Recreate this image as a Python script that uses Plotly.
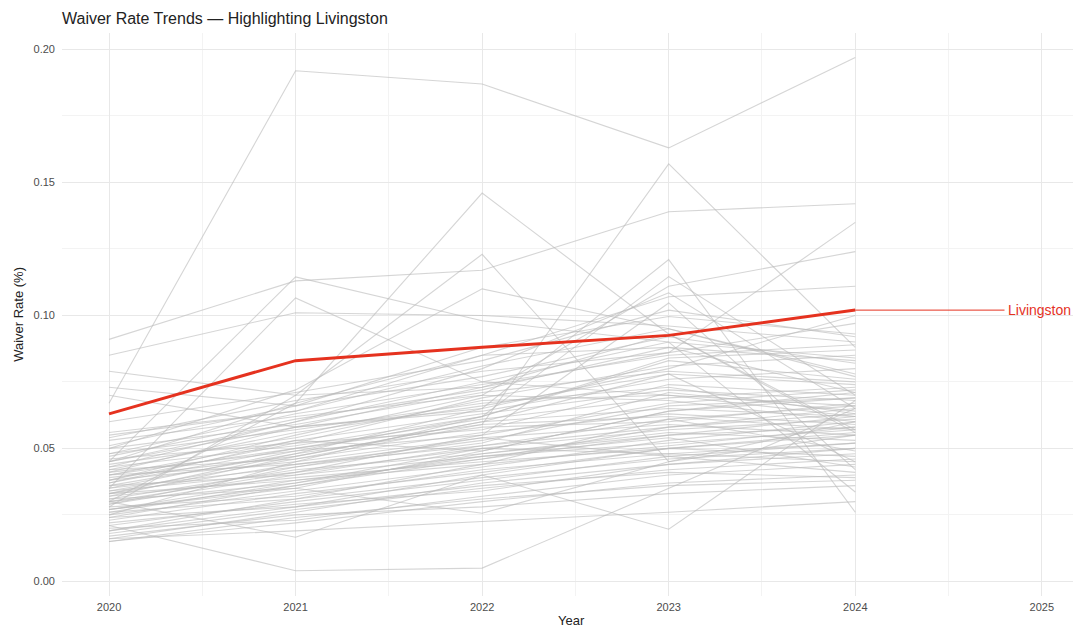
import plotly.graph_objects as go

years = [2020, 2021, 2022, 2023, 2024]
x_ticks = [2020, 2021, 2022, 2023, 2024, 2025]
y_ticks = [0.00, 0.05, 0.10, 0.15, 0.20]

highlight_name = "Livingston"
livingston = [0.063, 0.083, 0.088, 0.0925, 0.102]

# Other counties: one value per county for each year (same county order in every list)
rate_2020 = [0.067, 0.091, 0.085, 0.079, 0.045, 0.035, 0.030, 0.040, 0.028, 0.050,
             0.033, 0.025, 0.038, 0.043, 0.055, 0.030, 0.073, 0.070, 0.021, 0.019,
             0.030, 0.016, 0.027, 0.015, 0.045, 0.015, 0.017, 0.018, 0.020, 0.021,
             0.022, 0.023, 0.024, 0.025, 0.026, 0.027, 0.027, 0.028, 0.029, 0.030,
             0.031, 0.031, 0.032, 0.033, 0.034, 0.034, 0.035, 0.036, 0.036, 0.037,
             0.038, 0.038, 0.039, 0.040, 0.040, 0.041, 0.042, 0.042, 0.043, 0.044,
             0.045, 0.046, 0.047, 0.048, 0.048, 0.050, 0.051, 0.053, 0.054, 0.056,
             0.060, 0.026, 0.019, 0.029, 0.033, 0.037, 0.024, 0.032, 0.016, 0.045,
             0.041, 0.035]
rate_2021 = [0.192, 0.113, 0.101, 0.070, 0.1145, 0.1066, 0.067, 0.050, 0.070, 0.072,
             0.048, 0.045, 0.055, 0.060, 0.064, 0.041, 0.066, 0.058, 0.004, 0.028,
             0.0166, 0.019, 0.035, 0.024, 0.060, 0.022, 0.025, 0.027, 0.023, 0.030,
             0.029, 0.033, 0.028, 0.034, 0.031, 0.036, 0.038, 0.032, 0.040, 0.037,
             0.035, 0.042, 0.039, 0.044, 0.041, 0.046, 0.043, 0.048, 0.040, 0.050,
             0.045, 0.052, 0.047, 0.044, 0.053, 0.049, 0.056, 0.046, 0.051, 0.054,
             0.058, 0.052, 0.061, 0.057, 0.063, 0.059, 0.066, 0.062, 0.068, 0.064,
             0.071, 0.037, 0.031, 0.043, 0.038, 0.053, 0.036, 0.047, 0.026, 0.067,
             0.058, 0.049]
rate_2022 = [0.187, 0.117, 0.100, 0.073, 0.098, 0.075, 0.146, 0.059, 0.123, 0.110,
             0.065, 0.062, 0.070, 0.080, 0.085, 0.055, 0.088, 0.065, 0.005, 0.040,
             0.040, 0.0225, 0.0256, 0.031, 0.075, 0.030, 0.028, 0.035, 0.032, 0.038,
             0.034, 0.041, 0.036, 0.043, 0.039, 0.046, 0.044, 0.042, 0.051, 0.047,
             0.049, 0.048, 0.045, 0.053, 0.050, 0.056, 0.052, 0.058, 0.047, 0.061,
             0.054, 0.057, 0.060, 0.051, 0.063, 0.055, 0.066, 0.059, 0.062, 0.068,
             0.064, 0.069, 0.072, 0.067, 0.074, 0.071, 0.077, 0.070, 0.079, 0.081,
             0.083, 0.050, 0.044, 0.054, 0.046, 0.049, 0.048, 0.060, 0.037, 0.085,
             0.073, 0.062]
rate_2023 = [0.163, 0.139, 0.096, 0.086, 0.090, 0.070, 0.093, 0.157, 0.045, 0.095,
             0.121, 0.1146, 0.111, 0.1085, 0.107, 0.1047, 0.0996, 0.080, 0.035, 0.0196,
             0.050, 0.026, 0.045, 0.036, 0.090, 0.037, 0.033, 0.042, 0.040, 0.047,
             0.044, 0.050, 0.041, 0.053, 0.046, 0.055, 0.061, 0.048, 0.058, 0.052,
             0.064, 0.056, 0.050, 0.066, 0.057, 0.063, 0.071, 0.060, 0.054, 0.069,
             0.059, 0.074, 0.065, 0.061, 0.072, 0.067, 0.078, 0.062, 0.083, 0.070,
             0.076, 0.081, 0.088, 0.073, 0.085, 0.079, 0.092, 0.068, 0.086, 0.095,
             0.102, 0.048, 0.051, 0.047, 0.058, 0.064, 0.055, 0.078, 0.044, 0.088,
             0.093, 0.084]
rate_2024 = [0.197, 0.142, 0.090, 0.135, 0.084, 0.062, 0.056, 0.088, 0.060, 0.078,
             0.026, 0.070, 0.124, 0.065, 0.111, 0.042, 0.093, 0.100, 0.065, 0.068,
             0.055, 0.030, 0.055, 0.038, 0.0336, 0.040, 0.036, 0.046, 0.044, 0.052,
             0.048, 0.056, 0.039, 0.060, 0.050, 0.058, 0.066, 0.045, 0.063, 0.057,
             0.071, 0.053, 0.047, 0.069, 0.061, 0.059, 0.064, 0.067, 0.043, 0.073,
             0.055, 0.070, 0.062, 0.049, 0.068, 0.072, 0.074, 0.057, 0.076, 0.066,
             0.080, 0.085, 0.071, 0.063, 0.089, 0.075, 0.082, 0.060, 0.097, 0.077,
             0.092, 0.052, 0.058, 0.041, 0.065, 0.069, 0.062, 0.045, 0.050, 0.083,
             0.057, 0.087]

LABEL_GAP = 0.8  # label offset (years) to the right of the last point

GRAY = "rgba(185,185,185,0.6)"
RED = "#E5321F"
FONT = "Liberation Sans, Arial, sans-serif"

# page body has an 8px default margin, so the figure is sized to fit inside it
W, H = 1073, 623

fig = go.Figure()
columns = [rate_2020, rate_2021, rate_2022, rate_2023, rate_2024]
for i in range(len(rate_2020)):
    fig.add_trace(go.Scatter(
        x=years, y=[col[i] for col in columns], mode="lines",
        line=dict(color=GRAY, width=1.1), hoverinfo="skip", showlegend=False))

fig.add_trace(go.Scatter(
    x=years, y=livingston, mode="lines", name=highlight_name,
    line=dict(color=RED, width=3), showlegend=False))

# label leader line + text
fig.add_trace(go.Scatter(
    x=[years[-1], years[-1] + LABEL_GAP], y=[livingston[-1], livingston[-1]],
    mode="lines", line=dict(color=RED, width=1), hoverinfo="skip", showlegend=False))
fig.add_annotation(
    x=years[-1] + LABEL_GAP, y=livingston[-1], text=highlight_name,
    showarrow=False, xanchor="left", yanchor="middle", xshift=1,
    font=dict(family=FONT, size=14, color=RED))

# axis titles as paper annotations
fig.add_annotation(xref="paper", yref="paper", x=0.5, y=-0.027, yanchor="top",
                   text="Year", showarrow=False,
                   font=dict(family=FONT, size=13, color="#222222"))
fig.add_annotation(xref="paper", yref="paper", x=-0.0335, y=0.5, xanchor="right",
                   text="Waiver Rate (%)", textangle=-90, showarrow=False,
                   font=dict(family=FONT, size=13, color="#222222"))

fig.update_layout(
    width=W, height=H,
    margin=dict(l=54, r=0, t=25, b=35, autoexpand=False),
    paper_bgcolor="white", plot_bgcolor="white",
    font=dict(family=FONT, color="#4d4d4d"),
    title=dict(text="Waiver Rate Trends — Highlighting Livingston",
               x=54 / W, xanchor="left", y=1 - 10 / H, yanchor="middle",
               font=dict(family=FONT, size=16, color="#222222")),
)
fig.update_xaxes(
    range=[2019.748, 2025.21], tickvals=x_ticks, ticktext=[str(v) for v in x_ticks],
    showgrid=True, gridcolor="#e8e8e8", gridwidth=1, zeroline=False, showline=False,
    minor=dict(dtick=0.5, tick0=2019.5, showgrid=True, gridcolor="#f3f3f3", gridwidth=1),
    tickfont=dict(family=FONT, size=11, color="#4d4d4d"), ticks="", ticklabelstandoff=3,
    automargin=False,
)
fig.update_yaxes(
    range=[-0.0055, 0.2062], tickvals=y_ticks, ticktext=[f"{v:.2f}" for v in y_ticks],
    showgrid=True, gridcolor="#e8e8e8", gridwidth=1, zeroline=False, showline=False,
    minor=dict(dtick=0.025, tick0=0, showgrid=True, gridcolor="#f3f3f3", gridwidth=1),
    tickfont=dict(family=FONT, size=11, color="#4d4d4d"), ticks="", ticklabelstandoff=6,
    automargin=False,
)

fig.write_html("out.html")
